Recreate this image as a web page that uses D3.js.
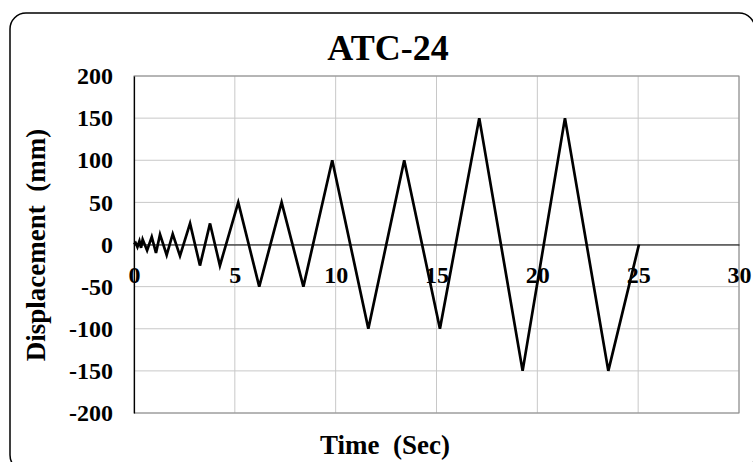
<!DOCTYPE html>
<html><head><meta charset="utf-8">
<script src="https://cdn.jsdelivr.net/npm/d3@7"></script>
<style>body{margin:0;background:#fff}svg{display:block}</style>
</head><body>
<svg id="c" width="753" height="462"></svg>
<script>
const timeSec = [0,0.08,0.17,0.27,0.35,0.43,0.65,0.88,1.09,1.29,1.62,1.92,2.28,2.78,3.27,3.77,4.26,5.17,6.21,7.32,8.40,9.83,11.62,13.40,15.17,17.12,19.27,21.37,23.52,25.04];
const dispMm  = [0,2,-3,4,-4,6,-7,9,-10,12,-12.5,12.5,-13.5,25,-25,25,-25,50,-50,50,-50,100,-100,100,-100,150,-150,150,-150,0];
const xTicks = [0,5,10,15,20,25,30];
const yTicks = [-200,-150,-100,-50,0,50,100,150,200];
const title = "ATC-24", xTitle = "Time  (Sec)", yTitle = "Displacement  (mm)";

const svg = d3.select("#c");
const font = "'Liberation Serif','Times New Roman',serif";
svg.append("rect").attr("x",10).attr("y",13).attr("width",745).attr("height",458)
  .attr("rx",16).attr("fill","#fff").attr("stroke","#000").attr("stroke-width",1.5);

const L=134,R=739,T=76,B=413;
const x = d3.scaleLinear().domain([0,30]).range([L,R]);
const y = d3.scaleLinear().domain([-200,200]).range([B,T]);

// grid
svg.append("g").selectAll("line").data(xTicks).join("line")
  .attr("x1",d=>x(d)).attr("x2",d=>x(d)).attr("y1",T).attr("y2",B)
  .attr("stroke","#c8c8c8").attr("stroke-width",1);
svg.append("g").selectAll("line").data(yTicks).join("line")
  .attr("x1",L).attr("x2",R).attr("y1",d=>y(d)).attr("y2",d=>y(d))
  .attr("stroke","#c8c8c8").attr("stroke-width",1);
svg.append("rect").attr("x",L).attr("y",T).attr("width",R-L).attr("height",B-T)
  .attr("fill","none").attr("stroke","#888").attr("stroke-width",1);

// axes
const yAxis = d3.axisLeft(y).tickValues(yTicks).tickSize(0).tickPadding(21).tickFormat(d=>String(d));
const gy = svg.append("g").attr("transform",`translate(${L},0)`).call(yAxis);
gy.select(".domain").attr("stroke","#000").attr("stroke-width",1.2);
gy.selectAll("text").attr("font-family",font).attr("font-weight","bold").attr("font-size",24).attr("fill","#000");

const xAxis = d3.axisBottom(x).tickValues(xTicks).tickSize(0).tickPadding(21).tickFormat(d=>String(d));
const gx = svg.append("g").attr("transform",`translate(0,${y(0)})`).call(xAxis);
gx.select(".domain").attr("stroke","#000").attr("stroke-width",1.2);
gx.selectAll("text").attr("font-family",font).attr("font-weight","bold").attr("font-size",24).attr("fill","#000");

// line
const pts = timeSec.map((t,i)=>[t,dispMm[i]]);
svg.append("path").datum(pts)
  .attr("d",d3.line().x(d=>x(d[0])).y(d=>y(d[1])))
  .attr("fill","none").attr("stroke","#000").attr("stroke-width",2.7).attr("stroke-linejoin","miter");

// titles
svg.append("text").attr("x",388).attr("y",60).attr("text-anchor","middle")
  .attr("font-family",font).attr("font-weight","bold").attr("font-size",36).text(title);
svg.append("text").attr("x",385).attr("y",454).attr("text-anchor","middle")
  .attr("font-family",font).attr("font-weight","bold").attr("font-size",27).style("white-space","pre").text(xTitle);
svg.append("text").attr("transform","translate(45,245) rotate(-90)").attr("text-anchor","middle")
  .attr("font-family",font).attr("font-weight","bold").attr("font-size",27).style("white-space","pre").text(yTitle);
</script>
</body></html>
